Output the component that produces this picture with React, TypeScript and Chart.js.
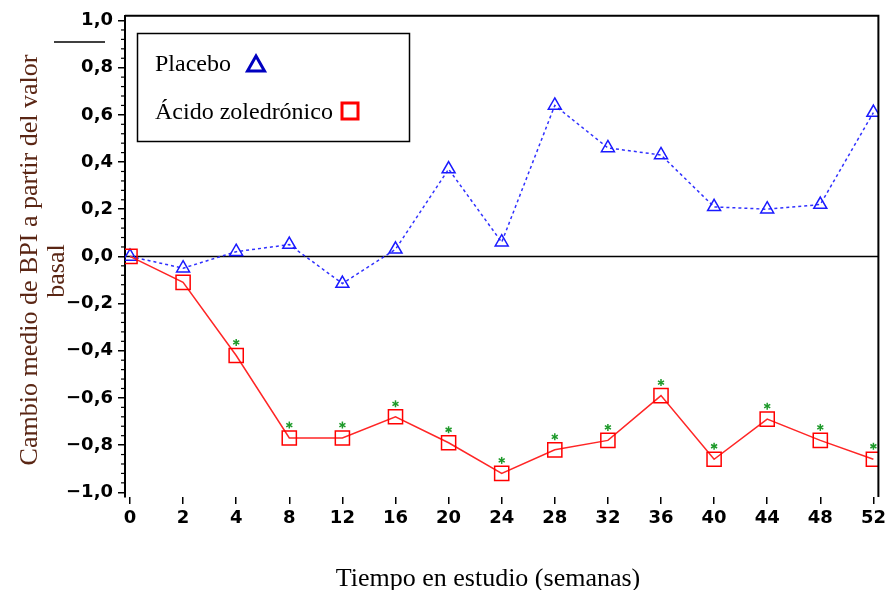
import React, { useEffect, useRef } from "react";
import { Chart, registerables } from "chart.js";

Chart.register(...registerables);

const weeks = ["0", "2", "4", "8", "12", "16", "20", "24", "28", "32", "36", "40", "44", "48", "52"];
const placebo = [0.0, -0.05, 0.02, 0.05, -0.115, 0.03, 0.37, 0.06, 0.64, 0.46, 0.43, 0.21, 0.2, 0.22, 0.61];
const zoledronic = [0.0, -0.11, -0.42, -0.77, -0.77, -0.68, -0.79, -0.92, -0.82, -0.78, -0.59, -0.86, -0.69, -0.78, -0.86];
const significant = [false, false, true, true, true, true, true, true, true, true, true, true, true, true, true];
const yTicks = [-1.0, -0.8, -0.6, -0.4, -0.2, 0.0, 0.2, 0.4, 0.6, 0.8, 1.0];
const yMinorStep = 0.04;

const yTitleLine1 = "Cambio medio de BPI a partir del valor";
const yTitleLine2 = "basal";
const xTitle = "Tiempo en estudio (semanas)";
const legendPlacebo = "Placebo";
const legendZol = "Ácido zoledrónico";

const tickFont = { family: "DejaVu Sans", size: 18, weight: "bold" as const };

function fmt(v: number) {
  const r = Math.round(v * 10) / 10;
  const s = Math.abs(r).toFixed(1).replace(".", ",");
  return r < 0 ? "\u2212" + s : s;
}

export default function App() {
  const ref = useRef<HTMLCanvasElement>(null);

  useEffect(() => {
    document.body.style.margin = "0";
    const canvas = ref.current!;

    const decor = {
      id: "decor",
      beforeDatasetsDraw(chart: any) {
        const { ctx, chartArea, scales } = chart;
        const y0 = scales.y.getPixelForValue(0);
        ctx.save();
        ctx.strokeStyle = "#000";
        ctx.lineWidth = 1.5;
        ctx.beginPath();
        ctx.moveTo(chartArea.left, y0);
        ctx.lineTo(chartArea.right, y0);
        ctx.stroke();
        ctx.restore();
      },
      afterDraw(chart: any) {
        const { ctx, chartArea, scales } = chart;
        const { left, right, top, bottom } = chartArea;
        ctx.save();
        // top and right frame
        ctx.strokeStyle = "#000";
        ctx.lineWidth = 2;
        ctx.beginPath();
        ctx.moveTo(left, top);
        ctx.lineTo(right, top);
        ctx.lineTo(right, bottom);
        ctx.stroke();

        // minor ticks on y
        ctx.lineWidth = 1.2;
        const n = Math.round(2 / yMinorStep);
        for (let k = 0; k <= n; k++) {
          if (k % 5 === 0) continue;
          const v = -1 + k * yMinorStep;
          const py = scales.y.getPixelForValue(v);
          ctx.beginPath();
          ctx.moveTo(left - 4, py);
          ctx.lineTo(left, py);
          ctx.stroke();
        }

        // stray short line top-left
        ctx.lineWidth = 1.5;
        ctx.beginPath();
        ctx.moveTo(54, 42);
        ctx.lineTo(105, 42);
        ctx.stroke();

        // asterisks
        ctx.strokeStyle = "#1e9a2a";
        ctx.lineWidth = 1.5;
        zoledronic.forEach((v, i) => {
          if (!significant[i]) return;
          const px = scales.x.getPixelForValue(i);
          const py = scales.y.getPixelForValue(v) - 13;
          const r = 3.5;
          for (let a = 0; a < 3; a++) {
            const ang = Math.PI / 2 + (a * Math.PI) / 3;
            ctx.beginPath();
            ctx.moveTo(px + Math.cos(ang) * r, py + Math.sin(ang) * r);
            ctx.lineTo(px - Math.cos(ang) * r, py - Math.sin(ang) * r);
            ctx.stroke();
          }
        });

        // legend box
        ctx.strokeStyle = "#000";
        ctx.lineWidth = 1.5;
        ctx.strokeRect(137.5, 33.5, 272, 108);
        ctx.fillStyle = "#000";
        ctx.font = "24px 'Liberation Serif'";
        ctx.textAlign = "left";
        ctx.textBaseline = "alphabetic";
        ctx.fillText(legendPlacebo, 155, 71);
        ctx.fillText(legendZol, 155, 119);
        // legend triangle
        ctx.strokeStyle = "#0000c0";
        ctx.lineWidth = 3;
        ctx.lineJoin = "miter";
        ctx.beginPath();
        ctx.moveTo(256, 56);
        ctx.lineTo(264.5, 71);
        ctx.lineTo(247.5, 71);
        ctx.closePath();
        ctx.stroke();
        // legend square
        ctx.strokeStyle = "#ff0000";
        ctx.strokeRect(342, 103, 16, 16);

        // x title
        ctx.fillStyle = "#000";
        ctx.font = "26px 'Liberation Serif'";
        ctx.textAlign = "center";
        ctx.fillText(xTitle, 488, 586);

        // y title
        ctx.fillStyle = "#5a2614";
        ctx.translate(0, 0);
        ctx.save();
        ctx.translate(37, 260);
        ctx.rotate(-Math.PI / 2);
        ctx.textAlign = "center";
        ctx.textBaseline = "alphabetic";
        ctx.fillText(yTitleLine1, 0, 0);
        ctx.fillText(yTitleLine2, -11, 27);
        ctx.restore();

        ctx.restore();
      },
    };

    const chart = new Chart(canvas, {
      type: "line",
      data: {
        datasets: [
          {
            label: legendZol,
            data: zoledronic.map((v, i) => ({ x: i, y: v })),
            borderColor: "#ff2626",
            borderWidth: 1.5,
            pointStyle: "rect",
            pointRadius: 10,
            pointHoverRadius: 10,
            pointBorderColor: "#ff0000",
            pointBackgroundColor: "rgba(0,0,0,0)",
            pointBorderWidth: 1.5,
            tension: 0,
          },
          {
            label: legendPlacebo,
            data: placebo.map((v, i) => ({ x: i, y: v })),
            borderColor: "#3030ff",
            borderWidth: 1.5,
            borderDash: [3, 3],
            pointStyle: "triangle",
            pointRadius: 7.5,
            pointHoverRadius: 7.5,
            pointBorderColor: "#1a1aff",
            pointBackgroundColor: "rgba(0,0,0,0)",
            pointBorderWidth: 1.5,
            tension: 0,
          },
        ],
      },
      options: {
        responsive: false,
        animation: false,
        devicePixelRatio: 1,
        layout: { padding: { top: 15, right: 9, left: 0, bottom: 0 } },
        plugins: { legend: { display: false }, tooltip: { enabled: false } },
        scales: {
          x: {
            type: "linear",
            min: -0.094,
            max: 14.094,
            afterBuildTicks: (s: any) => {
              s.ticks = weeks.map((_, i) => ({ value: i }));
            },
            afterFit: (s: any) => {
              s.height = 93;
            },
            ticks: {
              callback: (v: any) => weeks[Math.round(Number(v))],
              font: tickFont,
              color: "#000",
              padding: 4,
              autoSkip: false,
              maxRotation: 0,
            },
            grid: { display: true, drawOnChartArea: false, drawTicks: true, tickLength: 7, color: "#000", lineWidth: 1.5 },
            border: { display: false },
          },
          y: {
            type: "linear",
            min: -1.02,
            max: 1.02,
            afterBuildTicks: (s: any) => {
              s.ticks = yTicks.map((v) => ({ value: v }));
            },
            afterFit: (s: any) => {
              s.width = 125;
            },
            ticks: {
              callback: (v: any) => fmt(Number(v)),
              font: tickFont,
              color: "#000",
              padding: 5,
            },
            grid: { display: true, drawOnChartArea: false, drawTicks: true, tickLength: 7, color: "#000", lineWidth: 1.5 },
            border: { display: true, color: "#000", width: 2 },
          },
        },
      },
      plugins: [decor],
    });

    return () => chart.destroy();
  }, []);

  return (
    <div style={{ width: 890, height: 590, background: "#fff" }}>
      <canvas ref={ref} width={890} height={590} style={{ display: "block" }} />
    </div>
  );
}
